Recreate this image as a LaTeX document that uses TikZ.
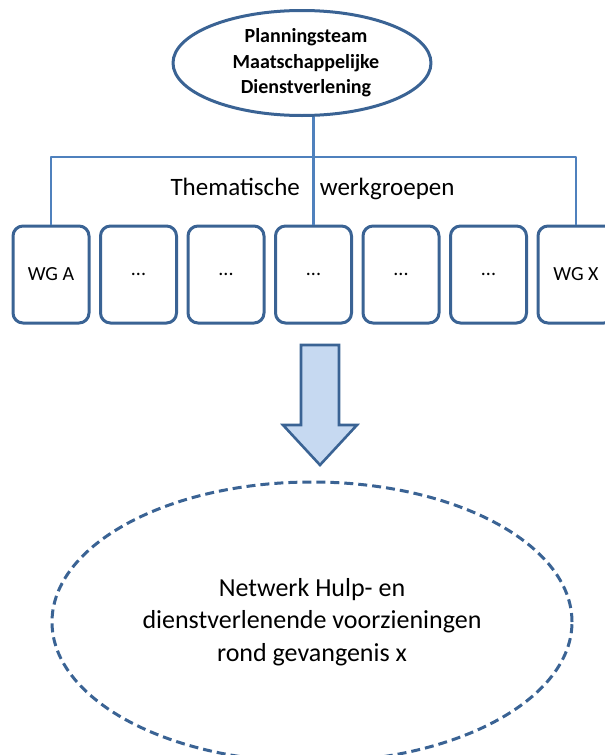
\documentclass[tikz,border=0pt]{standalone}
\usepackage{fontspec}
\setmainfont{Carlito}
\usetikzlibrary{positioning,shapes.geometric}
\definecolor{rand}{HTML}{3A6394}
\definecolor{lijn}{HTML}{4F81BD}
\definecolor{pijl}{HTML}{C6D9F1}
\begin{document}
\begin{tikzpicture}[line join=round, x=1pt, y=-1pt]
		\tikzset{wgbox/.style={draw=rand, line width=3pt, rounded corners=10pt, minimum width=76pt, minimum height=97pt, inner sep=0pt, font=\fontsize{20}{23}\selectfont},
			verbind/.style={draw=lijn, line width=2.6pt}}
		\useasboundingbox (0,0) rectangle (605,755);
		% planningsteam bovenaan
		\node[ellipse, draw=rand, line width=3pt, minimum width=258pt, minimum height=105pt, inner sep=0pt, align=center, font=\fontsize{20}{25.5}\selectfont\bfseries] (plan) at (302,63) {\hspace{8pt}Planningsteam\\\hspace{8pt}Maatschappelijke\\\hspace{8pt}Dienstverlening};
		% werkgroepen
		\node[wgbox] (wg1) at (51,274.5) {WG A};
		\foreach \i [count=\j from 1] in {2,...,6}
		\node[wgbox, right=8.5pt of wg\j] (wg\i) {...};
		\node[wgbox, right=8.5pt of wg6] (wg7) {WG X};
		\coordinate (bus) at (0,157);
		\draw[verbind] (wg1.north) |- (bus -| wg7.north) -- (wg7.north);
		\draw[verbind] (wg4.north) -- (wg4.north |- plan.south);
		\node[font=\fontsize{25}{30}\selectfont] (thema) at (312.5,189) {Thematische\hspace{20pt}werkgroepen};
		% pijl naar beneden
		\draw[draw=rand, fill=pijl, line width=2.6pt, line join=miter] (301,345)--(339,345)--(339,425)--(357,425)--(320,465)--(283,425)--(301,425)--cycle;
		% netwerk
		\node[ellipse, draw=rand, line width=3pt, dash pattern=on 9pt off 5pt, minimum width=520pt, minimum height=280pt, inner sep=0pt, align=center, font=\fontsize{26}{32.5}\selectfont] (netwerk) at (312,622) {Netwerk Hulp- en\\dienstverlenende voorzieningen\\rond gevangenis x};
	\end{tikzpicture}
\end{document}
